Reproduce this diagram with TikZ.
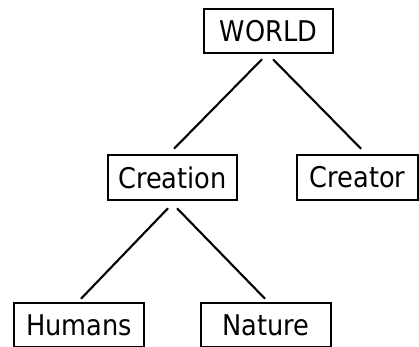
\documentclass[tikz,border=0pt]{standalone}
\usepackage{fontspec}
\setmainfont{DejaVu Sans Condensed}
\begin{document}
\begin{tikzpicture}[
        x=1pt, y=1pt,
        box/.style={rectangle, draw, line width=2pt, minimum width=129.5pt, minimum height=44.5pt, inner sep=0pt, font=\fontsize{28.5}{34}\selectfont},
        link/.style={line width=2.1pt}
    ]
        \useasboundingbox (0,0) rectangle (419,346);
        \clip (0,0) rectangle (419,346);

        % Top
        \node[box] (world) at (268.5,315) {WORLD};

        % Middle row
        \node[box] (creation) at (172.5,168.5) {Creation};
        \node[box, minimum width=121pt] (creator) at (357.5,168.5) {Creator};

        % Bottom row (cut off at the bottom)
        \node[box] (humans) at (79,21) {Humans};
        \node[box] (nature) at (266,21) {Nature};

        % Links WORLD -> middle row
        \draw[link] ([xshift=-6.5pt,yshift=-5pt]world.south) -- ([xshift=1.5pt,yshift=5.5pt]creation.north);
        \draw[link] ([xshift=4.5pt,yshift=-5pt]world.south) -- ([xshift=3.5pt,yshift=5.5pt]creator.north);

        % Links Creation -> bottom row
        \draw[link] ([xshift=-4.5pt,yshift=-7.5pt]creation.south) -- ([xshift=2pt,yshift=3pt]humans.north);
        \draw[link] ([xshift=4.5pt,yshift=-7.5pt]creation.south) -- ([xshift=-1pt,yshift=3pt]nature.north);

    \end{tikzpicture}
\end{document}
